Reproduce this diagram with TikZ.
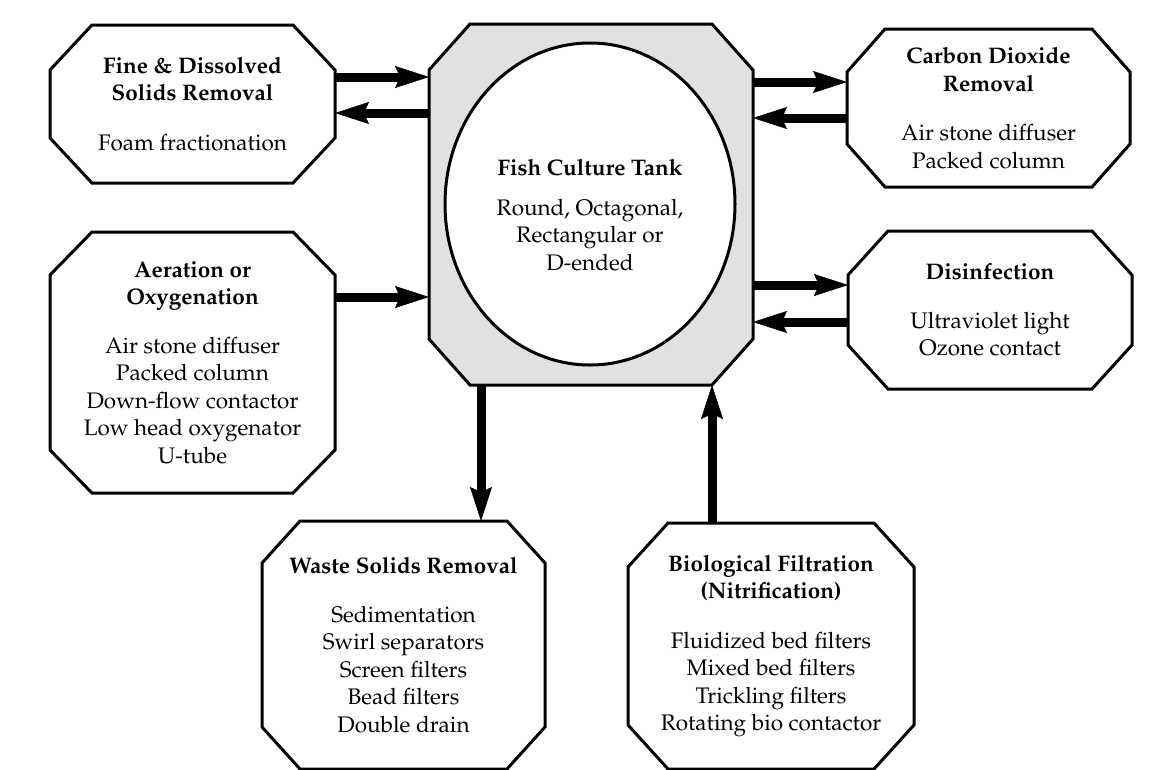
\documentclass[tikz,border=0pt]{standalone}
\usepackage[T1]{fontenc}
\renewcommand{\rmdefault}{ppl}
\usetikzlibrary{shapes.geometric,arrows.meta,positioning}
\definecolor{tankgray}{RGB}{225,225,225}
\begin{document}
\begin{tikzpicture}[x=1pt,y=-1pt,
  font=\fontsize{22.5}{27.5}\selectfont,
  unitbox/.style={rectangle,inner sep=0pt,outer sep=0pt,align=center},
  octo/.style={draw=black,line width=3pt,line join=miter},
  flow/.style={line width=9pt,-{Stealth[length=34pt,width=22pt,inset=5pt,line width=0.5pt]}}]
\useasboundingbox (0,0) rectangle (1157,769);
\node[unitbox,minimum width=324pt,minimum height=361pt] (tank) at (591,204.5) {};
\node[unitbox,minimum width=285pt,minimum height=158pt] (fine) at (192.5,104)
  {\textbf{Fine \& Dissolved}\\\textbf{Solids Removal}\\[22pt]Foam fractionation};
\node[unitbox,minimum width=285pt,minimum height=261pt] (aeration) at (192.5,362.5)
  {\textbf{Aeration or}\\\textbf{Oxygenation}\\[21pt]Air stone diffuser\\Packed column\\Down-flow contactor\\Low head oxygenator\\U-tube};
\node[unitbox,minimum width=283pt,minimum height=158pt] (carbon) at (988.5,108)
  {\textbf{Carbon Dioxide}\\\textbf{Removal}\\[22pt]Air stone diffuser\\Packed column};
\node[unitbox,minimum width=284pt,minimum height=158pt] (disinf) at (990,310)
  {\textbf{Disinfection}\\[21pt]Ultraviolet light\\Ozone contact};
\node[unitbox,minimum width=283pt,minimum height=248pt] (waste) at (403.5,645)
  {\textbf{Waste Solids Removal}\\[21pt]Sedimentation\\Swirl separators\\Screen filters\\Bead filters\\Double drain};
\node[unitbox,minimum width=286pt,minimum height=246pt] (bio) at (771,646)
  {\textbf{Biological Filtration}\\\textbf{(Nitrification)}\\[22pt]Fluidized bed filters\\Mixed bed filters\\Trickling filters\\Rotating bio contactor};
\foreach \n/\cx/\cy/\c in {tank/41/46/tankgray,fine/42/45/none,aeration/42/43/none,
    carbon/38/43/none,disinf/40/44/none,waste/38/42/none,bio/40/44/none}
  \draw[octo,fill=\c] ([xshift=\cx pt]\n.north west) -- ([xshift=-\cx pt]\n.north east)
    -- ([yshift=-\cy pt]\n.north east) -- ([yshift=\cy pt]\n.south east)
    -- ([xshift=-\cx pt]\n.south east) -- ([xshift=\cx pt]\n.south west)
    -- ([yshift=\cy pt]\n.south west) -- ([yshift=-\cy pt]\n.north west) -- cycle;
\node[draw=black,line width=3pt,fill=white,ellipse,inner sep=0pt,align=center,
  minimum width=290pt,minimum height=322pt] (tub) at (590,204)
  {\rule{0pt}{38pt}\textbf{Fish Culture Tank}\\[12pt]Round, Octagonal,\\Rectangular or\\D-ended};
\coordinate (fa) at ([yshift=27pt]fine.east);
\coordinate (fb) at ([yshift=-9pt]fine.east);
\draw[flow] (fa) -- (fa -| tank.west);
\draw[flow] (fb -| tank.west) -- (fb);
\coordinate (aa) at ([yshift=65.5pt]aeration.east);
\draw[flow] (aa) -- (aa -| tank.west);
\coordinate (ca) at ([yshift=26pt]carbon.west);
\coordinate (cb) at ([yshift=-10pt]carbon.west);
\draw[flow] (ca -| tank.east) -- (ca);
\draw[flow] (cb) -- (cb -| tank.east);
\coordinate (da) at ([yshift=25pt]disinf.west);
\coordinate (db) at ([yshift=-12pt]disinf.west);
\draw[flow] (da -| tank.east) -- (da);
\draw[flow] (db) -- (db -| tank.east);
\coordinate (wa) at ([xshift=77.5pt]waste.north);
\draw[flow] (wa |- tank.south) -- (wa);
\coordinate (ba) at ([xshift=-59pt]bio.north);
\draw[flow] (ba) -- (ba |- tank.south);
\end{tikzpicture}
\end{document}
